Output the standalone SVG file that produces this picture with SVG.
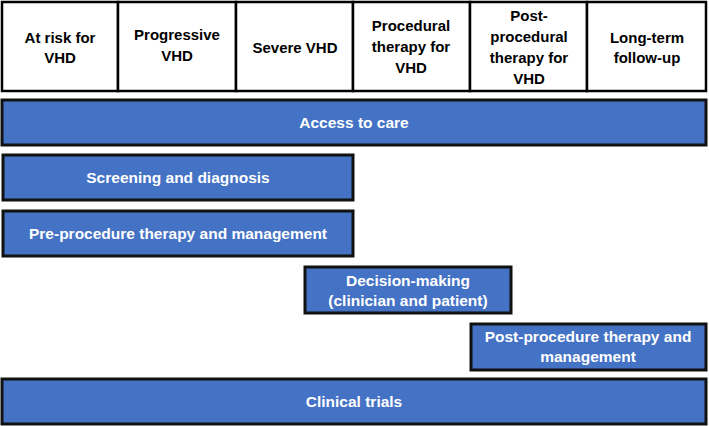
<svg xmlns="http://www.w3.org/2000/svg" width="709" height="426" viewBox="0 0 709 426">
<style>
.h{fill:#fff;stroke:#000;stroke-width:2.5}
.b{fill:#4472C4;stroke:#111;stroke-width:3}
.ht{font-family:"Liberation Sans",Arial,sans-serif;font-weight:bold;font-size:15px;fill:#000;text-anchor:middle}
.bt{font-family:"Liberation Sans",Arial,sans-serif;font-weight:bold;font-size:15.5px;fill:#fff;text-anchor:middle}
</style>
<rect width="709" height="426" fill="#fff"/>
<g id="header">
<g id="h1"><rect class="h" x="2" y="2" width="116" height="89"/><text class="ht" x="60" y="43">At risk for</text><text class="ht" x="60" y="63">VHD</text></g>
<g id="h2"><rect class="h" x="118" y="2" width="118" height="89"/><text class="ht" x="177" y="40">Progressive</text><text class="ht" x="177" y="61">VHD</text></g>
<g id="h3"><rect class="h" x="236" y="2" width="117" height="89"/><text class="ht" x="295" y="53">Severe VHD</text></g>
<g id="h4"><rect class="h" x="353" y="2" width="117" height="89"/><text class="ht" x="411" y="31">Procedural</text><text class="ht" x="411" y="52">therapy for</text><text class="ht" x="411" y="73">VHD</text></g>
<g id="h5"><rect class="h" x="470" y="2" width="117" height="89"/><text class="ht" x="529" y="21">Post-</text><text class="ht" x="529" y="42">procedural</text><text class="ht" x="529" y="63">therapy for</text><text class="ht" x="529" y="84">VHD</text></g>
<g id="h6"><rect class="h" x="587" y="2" width="119" height="89"/><text class="ht" x="647" y="43">Long-term</text><text class="ht" x="647" y="63">follow-up</text></g>
</g>
<g id="access"><rect class="b" x="2" y="100" width="704" height="45"/><text class="bt" x="354" y="128">Access to care</text></g>
<g id="screening"><rect class="b" x="3" y="155" width="350" height="45"/><text class="bt" x="178" y="183">Screening and diagnosis</text></g>
<g id="preproc"><rect class="b" x="3" y="211" width="350" height="45"/><text class="bt" x="178" y="239">Pre-procedure therapy and management</text></g>
<g id="decision"><rect class="b" x="305" y="267" width="206" height="46"/><text class="bt" x="408" y="286">Decision-making</text><text class="bt" x="408" y="306">(clinician and patient)</text></g>
<g id="postproc"><rect class="b" x="471" y="324" width="235" height="46"/><text class="bt" x="588" y="342">Post-procedure therapy and</text><text class="bt" x="588" y="362">management</text></g>
<g id="trials"><rect class="b" x="2" y="379" width="704" height="45"/><text class="bt" x="354" y="407">Clinical trials</text></g>
<g id="connectors"/>
</svg>
